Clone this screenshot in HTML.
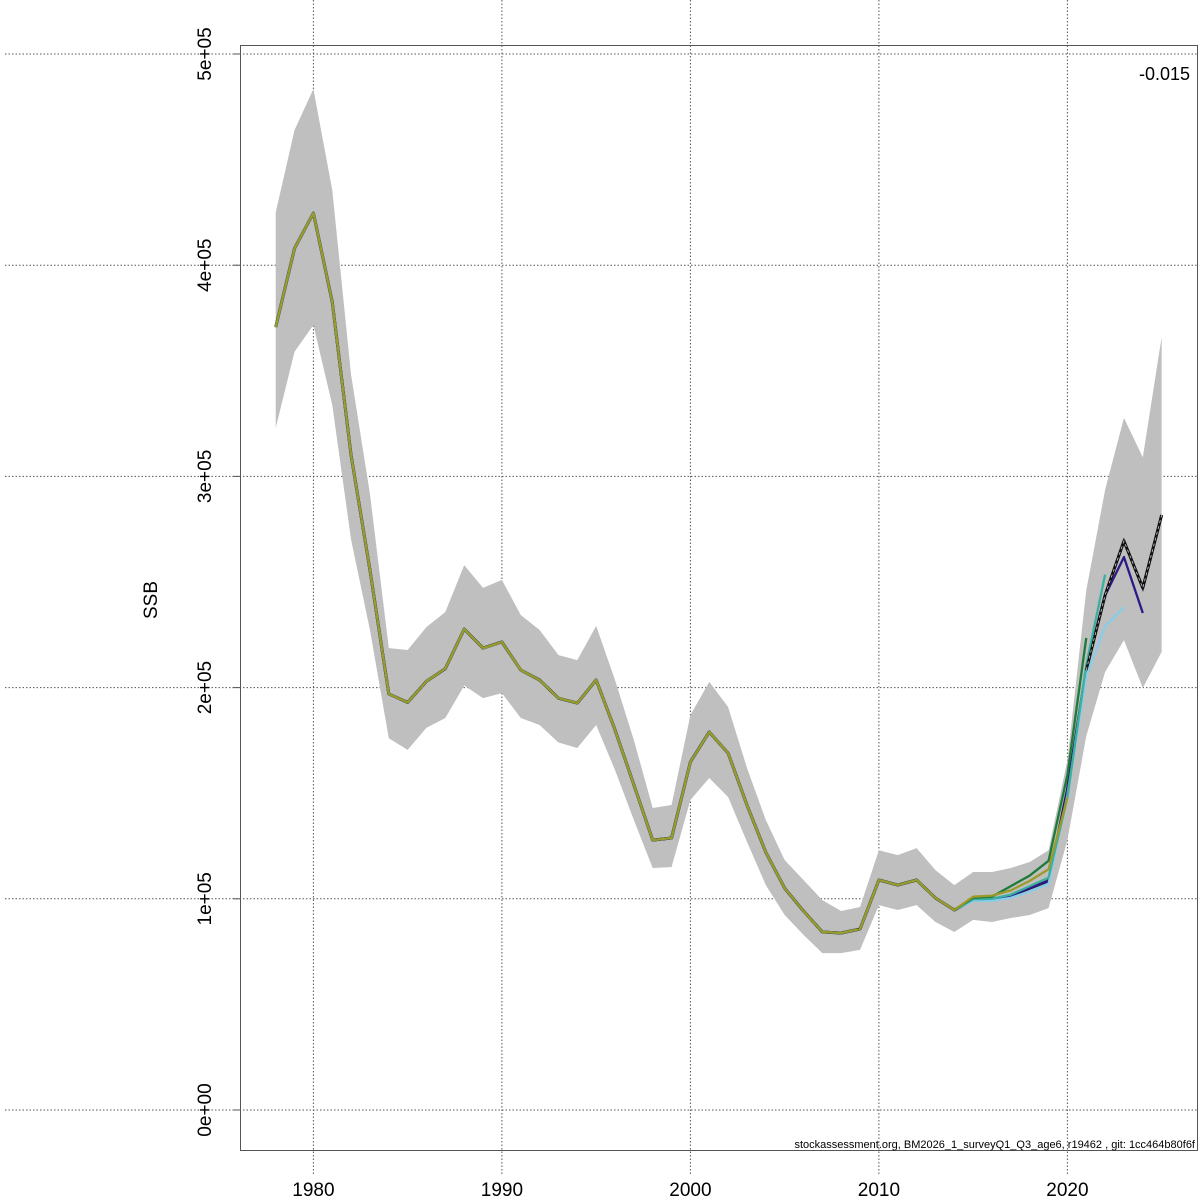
<!DOCTYPE html>
<html><head><meta charset="utf-8"><style>
html,body{margin:0;padding:0;background:#fff;}
svg{display:block;font-family:"Liberation Sans",sans-serif;}
</style></head><body>
<svg id="chart" width="1200" height="1200" xmlns="http://www.w3.org/2000/svg">
<g id="grid"></g>
<g id="band"></g>
<g id="lines"></g>
<rect x="240.5" y="45.5" width="957" height="1105" fill="none" stroke="#555" stroke-width="1"/>
<g id="axes"></g>
<text x="157" y="600" font-size="19" text-anchor="middle" transform="rotate(-90 157 600)">SSB</text>
<text x="1190" y="80" font-size="18" text-anchor="end">-0.015</text>
<text x="1195" y="1148" font-size="11" text-anchor="end">stockassessment.org, BM2026_1_surveyQ1_Q3_age6, r19462 , git: 1cc464b80f6f</text>
</svg>
<script>
const years=[1978,1979,1980,1981,1982,1983,1984,1985,1986,1987,1988,1989,1990,1991,1992,1993,1994,1995,1996,1997,1998,1999,2000,2001,2002,2003,2004,2005,2006,2007,2008,2009,2010,2011,2012,2013,2014,2015,2016,2017,2018,2019,2020,2021,2022,2023,2024,2025];
const ssb=[370.7,408,424.7,382.6,310,255.7,197,193,203,209,227.7,218.7,221.6,208.3,203.6,195,192.7,203.6,180,154,127.8,128.8,164.8,179,169,144.4,122,105,94.2,84.3,83.8,85.7,108.9,106.5,108.9,100.4,94.7,99.4,99.5,101.5,105,108.5,151.5,208.3,243.8,269.4,247.2,281.7];
const upper=[425,464,483.4,435.6,348,291.7,218.7,217.8,228.7,235.8,258,247.2,251,234.4,227.3,215.4,213,229.2,203.6,175.2,143,144.4,187,202.7,190.8,162,137.3,118.4,108.9,99.4,94.2,96.1,123,120.7,124,113.6,106.5,112.7,112.7,114.6,117.4,123,165.7,246,293.6,327.7,309,366];
const lower=[323,359,371.7,333.8,270,227.3,176,170.5,181,185.6,201,195,197.4,185.6,182.3,174,171.4,182.3,161,137.3,114.6,115,146.8,157.2,148.2,127,106.5,92.3,82.9,74.3,74.3,75.8,97,94.7,97,89,84.3,90,89,90.9,92.3,95.6,127.8,177,207.4,222.5,199.8,216.9];
// retrospective peels (years 2015 onward; earlier equal to main)
const peelStart=2015;
const peel2024=[99.4,99.5,101.5,105,108.5,151.5,209,243.6,261.8,235.3];
const peel2023=[99,99,100.5,103.5,107,149,205.6,229,238];
const peel2022=[99.8,100,102,106,110,148,210.6,253.5];
const peel2021=[100.5,101,106,111,118,158.7,223.5];
const peel2020=[101,101.5,104,108.5,114,147.8];
const yTicks=[0,100,200,300,400,500];
const yTickLabels=["0e+00","1e+05","2e+05","3e+05","4e+05","5e+05"];
const xTicks=[1980,1990,2000,2010,2020];

const NS="http://www.w3.org/2000/svg";
function X(yr){return 313.4+(yr-1980)*18.85;}
function Y(v){return 1110-v*2.112;}
function mk(tag,attrs,parent){const e=document.createElementNS(NS,tag);for(const k in attrs)e.setAttribute(k,attrs[k]);parent.appendChild(e);return e;}
const grid=document.getElementById('grid'),axes=document.getElementById('axes'),band=document.getElementById('band'),lines=document.getElementById('lines');
yTicks.forEach((t,i)=>{
  const l=mk('line',{x1:5,x2:1198,y1:Y(t),y2:Y(t),stroke:'#555','stroke-dasharray':'1.5,2','stroke-width':1},grid);
  
  
  const tk=mk('line',{x1:233,x2:240,y1:Y(t),y2:Y(t),stroke:'#555'},axes);
  
  
  const tx=mk('text',{x:0,y:0,'font-size':19,'text-anchor':'middle',transform:`translate(211 ${Y(t)}) rotate(-90)`},axes);
  tx.textContent=yTickLabels[i];
  
  
});
xTicks.forEach(t=>{
  const l=mk('line',{x1:X(t),x2:X(t),y1:0,y2:1175,stroke:'#555','stroke-dasharray':'1.5,2','stroke-width':1},grid);
  
  
  const tx=mk('text',{x:X(t),y:1196,'font-size':19,'text-anchor':'middle'},axes);
  tx.textContent=t;
  
  
});
let pts=years.map((y,i)=>X(y)+','+Y(upper[i]));
pts=pts.concat(years.slice().reverse().map((y,j)=>X(y)+','+Y(lower[years.length-1-j])));
const poly=mk('polygon',{points:pts.join(' '),fill:'#bfbfbf',stroke:'none'},band);


function drawPeel(vals,color,name){
  const idx=years.indexOf(peelStart);
  const p=[];
  for(let i=0;i<idx;i++)p.push(X(years[i])+','+Y(ssb[i]));
  vals.forEach((v,j)=>p.push(X(peelStart+j)+','+Y(v)));
  const pl=mk('polyline',{points:p.join(' '),fill:'none',stroke:color,'stroke-width':2.3,'stroke-linejoin':'round'},lines);
  
  
}
const mainPts=years.map((y,i)=>X(y)+','+Y(ssb[i])).join(' ');
const m1=mk('polyline',{points:mainPts,fill:'none',stroke:'#111','stroke-width':3,'stroke-linejoin':'round'},lines);


drawPeel(peel2024,'#2e1a87','retro-peel-2024');
drawPeel(peel2023,'#87cdea','retro-peel-2023');
drawPeel(peel2022,'#3bb0a0','retro-peel-2022');
drawPeel(peel2021,'#1e7b3a','retro-peel-2021');
drawPeel(peel2020,'#9c9a2a','retro-peel-2020');
const m2=mk('polyline',{points:years.map((y,i)=>X(y)+','+Y(ssb[i])).slice(43).join(' '),fill:'none',stroke:'#111','stroke-width':2.5},lines);


const m3=mk('polyline',{points:years.map((y,i)=>X(y)+','+Y(ssb[i])).slice(43).join(' '),fill:'none',stroke:'#ccc','stroke-width':0.8,'stroke-dasharray':'3,3'},lines);


</script>
</body></html>
